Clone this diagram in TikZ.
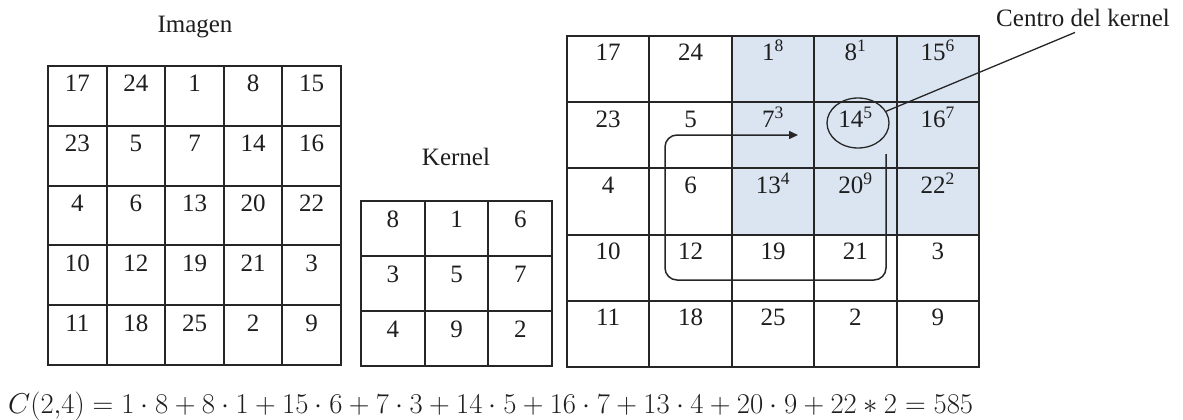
\documentclass[tikz,border=0pt]{standalone}
\usepackage{graphicx}
\usepackage{fontspec}
\setmainfont{Liberation Serif}
\usepackage{tikz}
\usetikzlibrary{positioning,arrows.meta,shapes.geometric,calc}
\definecolor{cGrid}{HTML}{262626}
\definecolor{cWin}{HTML}{DBE5F1}
\definecolor{cInk}{HTML}{1E1E1E}

\begin{document}
\begin{tikzpicture}[
  x=1pt, y=-1pt,
  font=\fontsize{25}{30}\selectfont,
  cell/.style={draw=cGrid, line width=2pt, inner sep=0pt, fill=white},
  num/.style={anchor=base, inner sep=0pt, text=cInk},
  ttl/.style={anchor=base, inner sep=0pt, text=cInk},
  fl/.style={draw=cGrid, line width=1.5pt, rounded corners=12pt},
  >={Triangle[length=9pt, width=8pt]}]
\useasboundingbox (0,0) rectangle (1183,420);

% ================= Imagen =================
\foreach [count=\r] \rowvals in {{17,24,1,8,15},{23,5,7,14,16},{4,6,13,20,22},
                                 {10,12,19,21,3},{11,18,25,2,9}} {
  \foreach [count=\c] \v in \rowvals {
    \node[cell, minimum width=58.6pt, minimum height=59.8pt]
      (img-\r-\c) at (48+58.6*\c-29.3, 66+59.8*\r-29.9) {};
    \node[num] (iv-\r-\c) at ($(img-\r-\c.north)+(0,27)$) {\v};
  }
}
\node[ttl] (timg) at (195,33) {Imagen};

% ================= Kernel =================
\foreach [count=\r] \rowvals in {{8,1,6},{3,5,7},{4,9,2}} {
  \foreach [count=\c] \v in \rowvals {
    \node[cell, minimum width=63.7pt, minimum height=55pt]
      (ker-\r-\c) at (361+63.7*\c-31.85, 201+55*\r-27.5) {};
    \node[num] (kv-\r-\c) at ($(ker-\r-\c.north)+(0,27)$) {\v};
  }
}
\node[ttl] (tker) at (456,165) {Kernel};

% ================= kernel over the image =================
\foreach [count=\r] \rowvals in {{17,24,{1\textsuperscript{8}},{8\textsuperscript{1}},{15\textsuperscript{6}}},
                                 {23,5,{7\textsuperscript{3}},{14\textsuperscript{5}},{16\textsuperscript{7}}},
                                 {4,6,{13\textsuperscript{4}},{20\textsuperscript{9}},{22\textsuperscript{2}}},
                                 {10,12,19,21,3},{11,18,25,2,9}} {
  \foreach [count=\c] \v in \rowvals {
    \ifnum\c>2 \ifnum\r<4 \def\cf{cWin}\else\def\cf{white}\fi\else\def\cf{white}\fi
    \node[cell, fill=\cf, minimum width=82.4pt, minimum height=66.2pt]
      (res-\r-\c) at (567+82.4*\c-41.2, 36+66.2*\r-33.1) {};
    \node[num] (rv-\r-\c) at ($(res-\r-\c.north)+(0,26)$) {\v};
  }
}

% sweep path and kernel centre
\coordinate (pstart) at (886,154);
\coordinate (pturn) at (665,280);
\coordinate (ptip) at (798,135);
\draw[fl, ->] (pstart) |- (pturn) |- (ptip);
\node[ellipse, draw=cGrid, line width=1.3pt, minimum width=62pt,
      minimum height=50pt, inner sep=0pt] (centro) at (858,123) {};
\node[ttl] (tcen) at (1083,27) {Centro del kernel};
\draw[draw=cGrid, line width=1.3pt] (centro) -- ($(tcen.south)+(-8,5)$);

% ---- result ----
\node[anchor=base west, inner sep=0pt, text=cInk] (eq) at (8,413)
  {\resizebox{965pt}{!}{$C(2{,}4) = 1\cdot 8 + 8\cdot 1 + 15\cdot 6 + 7\cdot 3 + 14\cdot 5 + 16\cdot 7
    + 13\cdot 4 + 20\cdot 9 + 22 \ast 2 = 585$}};
\end{tikzpicture}
\end{document}
